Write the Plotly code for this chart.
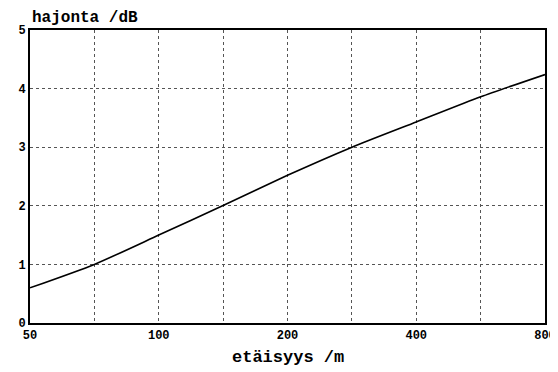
import plotly.graph_objects as go
import math

# data
distance_m = [50, 70.7, 100, 141, 200, 283, 400, 566, 800]
spread_db = [0.6, 1.0, 1.5, 2.0, 2.52, 3.0, 3.43, 3.86, 4.24]

x_tickvals = [50, 70.71, 100, 141.42, 200, 282.84, 400, 565.69, 800]
x_ticktext = ["<b>50</b>", "", "<b>100</b>", "", "<b>200</b>", "", "<b>400</b>", "", "<b>800</b>"]
y_tickvals = [0, 1, 2, 3, 4, 5]
y_ticktext = ["<b>0</b>", "<b>1</b>", "<b>2</b>", "<b>3</b>", "<b>4</b>", "<b>5</b>"]

font_family = "Liberation Mono, DejaVu Sans Mono, monospace"

fig = go.Figure()
fig.add_trace(go.Scatter(x=distance_m, y=spread_db, mode="lines",
                         line=dict(color="black", width=1.6, shape="spline", smoothing=0.6),
                         showlegend=False))

fig.update_layout(
    width=550, height=364,
    margin=dict(l=22, r=13, t=22, b=49),
    paper_bgcolor="white", plot_bgcolor="white",
    font=dict(family=font_family, color="black", size=10),
    xaxis=dict(type="log", range=[math.log10(50), math.log10(800)],
               tickvals=x_tickvals, ticktext=x_ticktext, automargin=False,
               showgrid=True, gridcolor="#555", griddash="dot", gridwidth=1,
               showline=True, linecolor="black", linewidth=2, mirror=True,
               ticks="", tickfont=dict(size=12, family=font_family),
               zeroline=False),
    yaxis=dict(range=[0, 5], tickvals=y_tickvals, ticktext=y_ticktext, automargin=False,
               showgrid=True, gridcolor="#555", griddash="dot", gridwidth=1,
               showline=True, linecolor="black", linewidth=2, mirror=True,
               ticks="", tickfont=dict(size=12, family=font_family),
               zeroline=False),
    annotations=[
        dict(text="<b>hajonta /dB</b>", xref="paper", yref="paper",
             x=0.0, y=1.0, xanchor="left", yanchor="middle", yshift=12, showarrow=False,
             font=dict(size=16, family=font_family)),
        dict(text="<b>etäisyys /m</b>", xref="paper", yref="paper",
             x=0.5, y=0.0, xanchor="center", yanchor="middle", yshift=-34, showarrow=False,
             font=dict(size=17, family=font_family)),
    ],
)

fig.write_html("out.html")
